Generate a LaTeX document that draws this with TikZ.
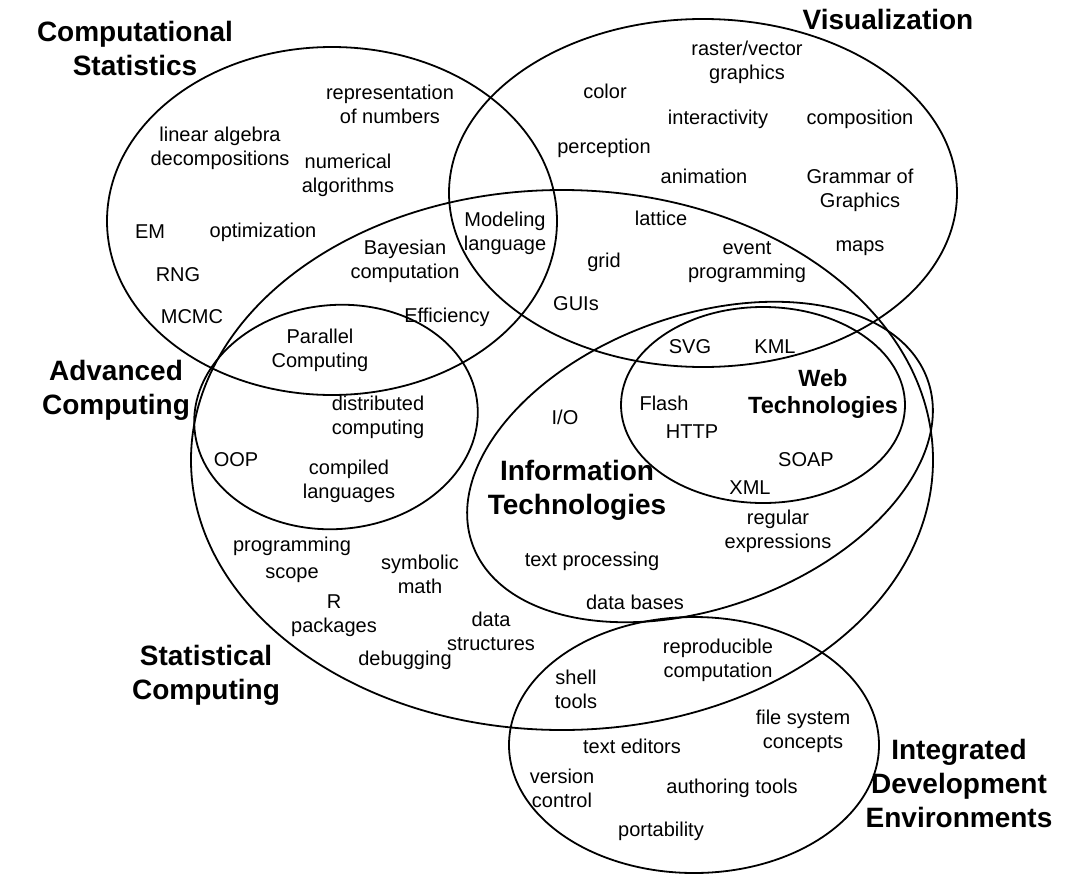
\documentclass[tikz,border=0pt]{standalone}
\usepackage{fontspec}
\setmainfont{Liberation Sans}
\begin{document}
\begin{tikzpicture}[x=1pt,y=-1pt,
  lbl/.style={align=center, font=\fontsize{20}{24}\selectfont, inner sep=0pt},
  head/.style={align=center, font=\bfseries\fontsize{28}{34}\selectfont, inner sep=0pt},
  subhead/.style={align=center, font=\bfseries\fontsize{23.5}{27}\selectfont, inner sep=0pt},
  setline/.style={draw=black, line width=1.8pt}]
\useasboundingbox (0,0) rectangle (1081,878);
\fill[white] (0,0) rectangle (1081,878);

% sets
\draw[setline] (332,221) ellipse [x radius=225, y radius=174];   % Computational Statistics
\draw[setline] (703,193) ellipse [x radius=254, y radius=174];   % Visualization
\draw[setline] (562,460) ellipse [x radius=371, y radius=270];   % Statistical Computing
\draw[setline, rotate around={5:(336,417)}] (336,417) ellipse [x radius=142, y radius=112]; % Advanced Computing
\draw[setline, rotate around={20:(700,462)}] (700,462) ellipse [x radius=242, y radius=146]; % Information Technologies
\draw[setline] (763,405) ellipse [x radius=142, y radius=98];    % Web Technologies
\draw[setline] (694,745) ellipse [x radius=185, y radius=128];   % IDE

% headings
\node[head] (hcs) at (135,48) {Computational\\Statistics};
\node[head] (hvis) at (888,19) {Visualization};
\node[head] (hac) at (116,390) {Advanced\\Computing};
\node[head] (hsc) at (206,675) {Statistical\\Computing};
\node[head] (hit) at (577,490) {Information\\Technologies};
\node[head] (hide) at (959,783) {Integrated\\Development\\Environments};
\node[subhead] (hwt) at (823,394) {Web\\Technologies};

% items
\node[lbl] (t1) at (390,104) {representation\\of numbers};
\node[lbl] (t2) at (220,148) {linear algebra\\decompositions};
\node[lbl] (t3) at (348,175) {numerical\\algorithms};
\node[lbl] (t4) at (150,232) {EM};
\node[lbl] (t5) at (263,232) {optimization};
\node[lbl] (t6) at (178,275) {RNG};
\node[lbl] (t7) at (192,317) {MCMC};
\node[lbl] (t8) at (405,261) {Bayesian\\computation};
\node[lbl] (t9) at (505,233) {Modeling\\language};
\node[lbl] (t10) at (447,317) {Efficiency};
\node[lbl] (t11) at (320,350) {Parallel\\Computing};
\node[lbl] (t12) at (747,62) {raster/vector\\graphics};
\node[lbl] (t13) at (605,91) {color};
\node[lbl] (t14) at (718,119) {interactivity};
\node[lbl] (t15) at (860,119) {composition};
\node[lbl] (t16) at (604,148) {perception};
\node[lbl] (t17) at (704,176) {animation};
\node[lbl] (t18) at (860,190) {Grammar of\\Graphics};
\node[lbl] (t19) at (661,218) {lattice};
\node[lbl] (t20) at (604,262) {grid};
\node[lbl] (t21) at (747,262) {event\\programming};
\node[lbl] (t22) at (860,248) {maps};
\node[lbl] (t23) at (576,304) {GUIs};
\node[lbl] (t24) at (690,347) {SVG};
\node[lbl] (t25) at (775,347) {KML};
\node[lbl] (t26) at (565,417) {I/O};
\node[lbl] (t27) at (664,403) {Flash};
\node[lbl] (t28) at (692,432) {HTTP};
\node[lbl] (t29) at (806,460) {SOAP};
\node[lbl] (t30) at (750,488) {XML};
\node[lbl] (t31) at (378,417) {distributed\\computing};
\node[lbl] (t32) at (236,460) {OOP};
\node[lbl] (t33) at (349,481) {compiled\\languages};
\node[lbl] (t34) at (778,531) {regular\\expressions};
\node[lbl] (t35) at (292,546) {programming};
\node[lbl] (t36) at (292,575) {scope};
\node[lbl] (t37) at (420,574) {symbolic\\math};
\node[lbl] (t38) at (334,616) {R\\packages};
\node[lbl] (t39) at (592,561) {text processing};
\node[lbl] (t40) at (635,602) {data bases};
\node[lbl] (t41) at (491,631) {data\\structures};
\node[lbl] (t42) at (405,660) {debugging};
\node[lbl] (t43) at (718,660) {reproducible\\computation};
\node[lbl] (t44) at (576,689) {shell\\tools};
\node[lbl] (t45) at (803,731) {file system\\concepts};
\node[lbl] (t46) at (632,746) {text editors};
\node[lbl] (t47) at (562,788) {version\\control};
\node[lbl] (t48) at (732,788) {authoring tools};
\node[lbl] (t49) at (661,831) {portability};
\end{tikzpicture}
\end{document}
